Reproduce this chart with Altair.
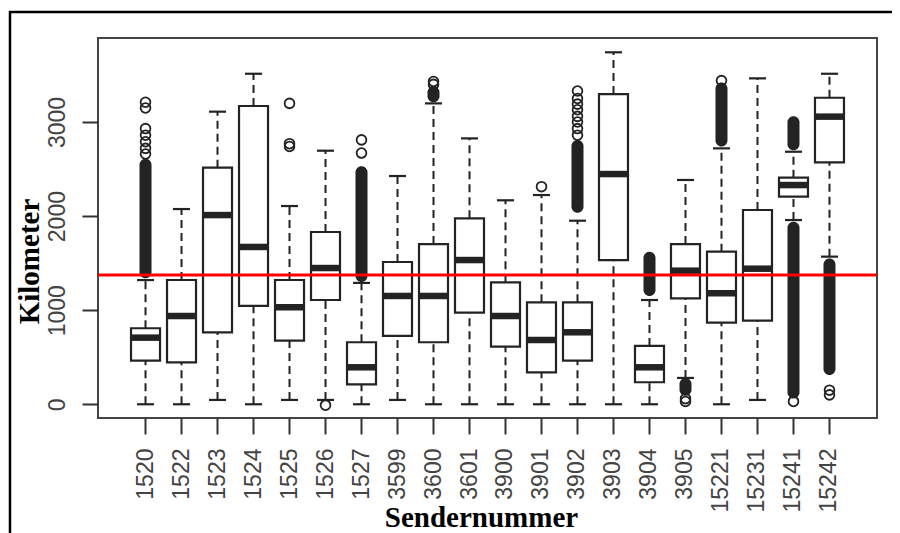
import altair as alt
import pandas as pd

# ---- data ----
cats = ["1520", "1522", "1523", "1524", "1525", "1526", "1527", "3599", "3600", "3601",
        "3900", "3901", "3902", "3903", "3904", "3905", "15221", "15231", "15241", "15242"]
whisk_lo = [0, 0, 46, 0, 46, 46, 0, 46, 0, 0, 0, 0, 0, 0, 0, 280, 0, 46, 1958, 1569]
q1 = [463, 446, 765, 1045, 676, 1108, 212, 726, 659, 973, 612, 340, 463, 1533, 234, 1126, 867, 888, 2206, 2572]
median = [708, 938, 2011, 1672, 1031, 1448, 393, 1151, 1151, 1533, 938, 683, 765, 2447, 393, 1420, 1180, 1441, 2330, 3057]
q3 = [808, 1321, 2515, 3170, 1321, 1831, 659, 1512, 1703, 1976, 1296, 1084, 1084, 3297, 620, 1703, 1622, 2065, 2408, 3258]
whisk_hi = [1320, 2075, 3110, 3513, 2107, 2695, 1290, 2426, 3198, 2826, 2168, 2224, 1951, 3741, 1108, 2384, 2720, 3464, 2684, 3513]

# dense runs of outliers (drawn as solid columns)
dense_cat = ["1520", "1527", "3600", "3902", "3904", "3905", "15221", "15241", "15241", "15242"]
dense_lo = [1340, 1300, 3210, 2036, 1150, 90, 2740, 2700, 60, 310]
dense_hi = [2610, 2530, 3380, 2810, 1620, 280, 3420, 3060, 1940, 1550]

# individual outliers
out_cat = ["1520", "1520", "1520", "1520", "1520", "1520", "1520",
           "1525", "1525", "1525", "1526", "1527", "1527", "3600", "3600", "3901",
           "3902", "3902", "3902", "3902", "3902", "3902", "3902", "3902",
           "3905", "3905", "15221", "15241", "15242", "15242"]
out_val = [2660, 2720, 2790, 2860, 2930, 3150, 3210,
           2740, 2770, 3198, -10, 2670, 2810, 3400, 3430, 2313,
           2860, 2930, 3000, 3060, 3130, 3190, 3250, 3330,
           30, 60, 3440, 30, 150, 100]

mean_value = [1374]
y_tick_values = [0, 1000, 2000, 3000]

# ---- tables ----
box_df = pd.DataFrame({"cat": cats, "lo": whisk_lo, "q1": q1, "med": median, "q3": q3, "hi": whisk_hi})
dense_df = pd.DataFrame({"cat": dense_cat, "lo": dense_lo, "hi": dense_hi})
out_df = pd.DataFrame({"cat": out_cat, "v": out_val})
mean_df = pd.DataFrame({"v": mean_value})
frame_df = pd.DataFrame({"a": [1]})

INK = "#232323"
W, H = 779, 380

x_axis = alt.Axis(
    title="Sendernummer", labelAngle=270, labelFont="Liberation Sans", labelFontSize=23,
    labelColor="#444", labelPadding=14, labelOverlap=False, tickSize=16, tickWidth=2,
    tickColor="#333", domain=False, grid=False,
    titleFont="Liberation Serif", titleFontSize=29, titleFontWeight="bold", titleColor="black",
    titleX=383, titleY=108, titleAlign="center", titleBaseline="alphabetic",
)
y_axis = alt.Axis(
    title="Kilometer", values=y_tick_values, format="d", labelAngle=270, labelAlign="center",
    labelBaseline="alphabetic", labelFont="Liberation Sans", labelFontSize=23, labelColor="#444",
    labelPadding=18, tickSize=16, tickWidth=2, tickColor="#333", domain=False, grid=False,
    titleFont="Liberation Serif", titleFontSize=29, titleFontWeight="bold", titleColor="black",
    titleAngle=270, titleX=-60, titleY=223, titleAlign="center", titleBaseline="alphabetic",
)
y_scale = alt.Scale(domain=[-146, 3893], nice=False, zero=False)


def X():
    return alt.X("cat:N", sort=cats, axis=x_axis,
                 scale=alt.Scale(type="band", paddingInner=0, paddingOuter=0.82))


def Y(field):
    return alt.Y(f"{field}:Q", scale=y_scale, axis=y_axis)


# outer picture frame (only its top and left edges are inside the picture)
frame_top = alt.Chart(frame_df).mark_rule(color="black", strokeWidth=2.5).encode(
    x=alt.value(-89), x2=alt.value(800), y=alt.value(-26))
frame_left = alt.Chart(frame_df).mark_rule(color="black", strokeWidth=2.5).encode(
    x=alt.value(-88), y=alt.value(-27), y2=alt.value(500))

base = alt.Chart(box_df)
wl = base.mark_rule(strokeDash=[8, 5], strokeWidth=2, color=INK).encode(x=X(), y=Y("lo"), y2="q1")
wh = base.mark_rule(strokeDash=[8, 5], strokeWidth=2, color=INK).encode(x=X(), y=Y("q3"), y2="hi")
cap_lo = base.mark_tick(size=17, thickness=2.2, color=INK, opacity=1).encode(x=X(), y=Y("lo"))
cap_hi = base.mark_tick(size=17, thickness=2.2, color=INK, opacity=1).encode(x=X(), y=Y("hi"))
box = base.mark_bar(size=29, fill="white", stroke=INK, strokeWidth=2.2).encode(x=X(), y=Y("q1"), y2="q3")
med = base.mark_tick(size=29, thickness=6.5, color=INK, opacity=1).encode(x=X(), y=Y("med"))

dense = alt.Chart(dense_df).mark_bar(size=12, cornerRadius=6, color=INK).encode(
    x=X(), y=Y("lo"), y2="hi")
outl = alt.Chart(out_df).mark_point(shape="circle", size=95, filled=False, strokeWidth=1.8,
                                    color=INK, opacity=1).encode(x=X(), y=Y("v"))
mean_rule = alt.Chart(mean_df).mark_rule(color="#ff0000", strokeWidth=3).encode(y=Y("v"))

chart = alt.layer(frame_top, frame_left, wl, wh, box, med, cap_lo, cap_hi, dense, outl, mean_rule).properties(
    width=W, height=H,
    autosize=alt.AutoSizeParams(type="none"),
    padding={"left": 90, "top": 30, "right": 15, "bottom": 115},
    background="white",
).configure_view(stroke="#444", strokeWidth=2)

chart.save("out.html", embed_options={"renderer": "svg", "actions": False})
